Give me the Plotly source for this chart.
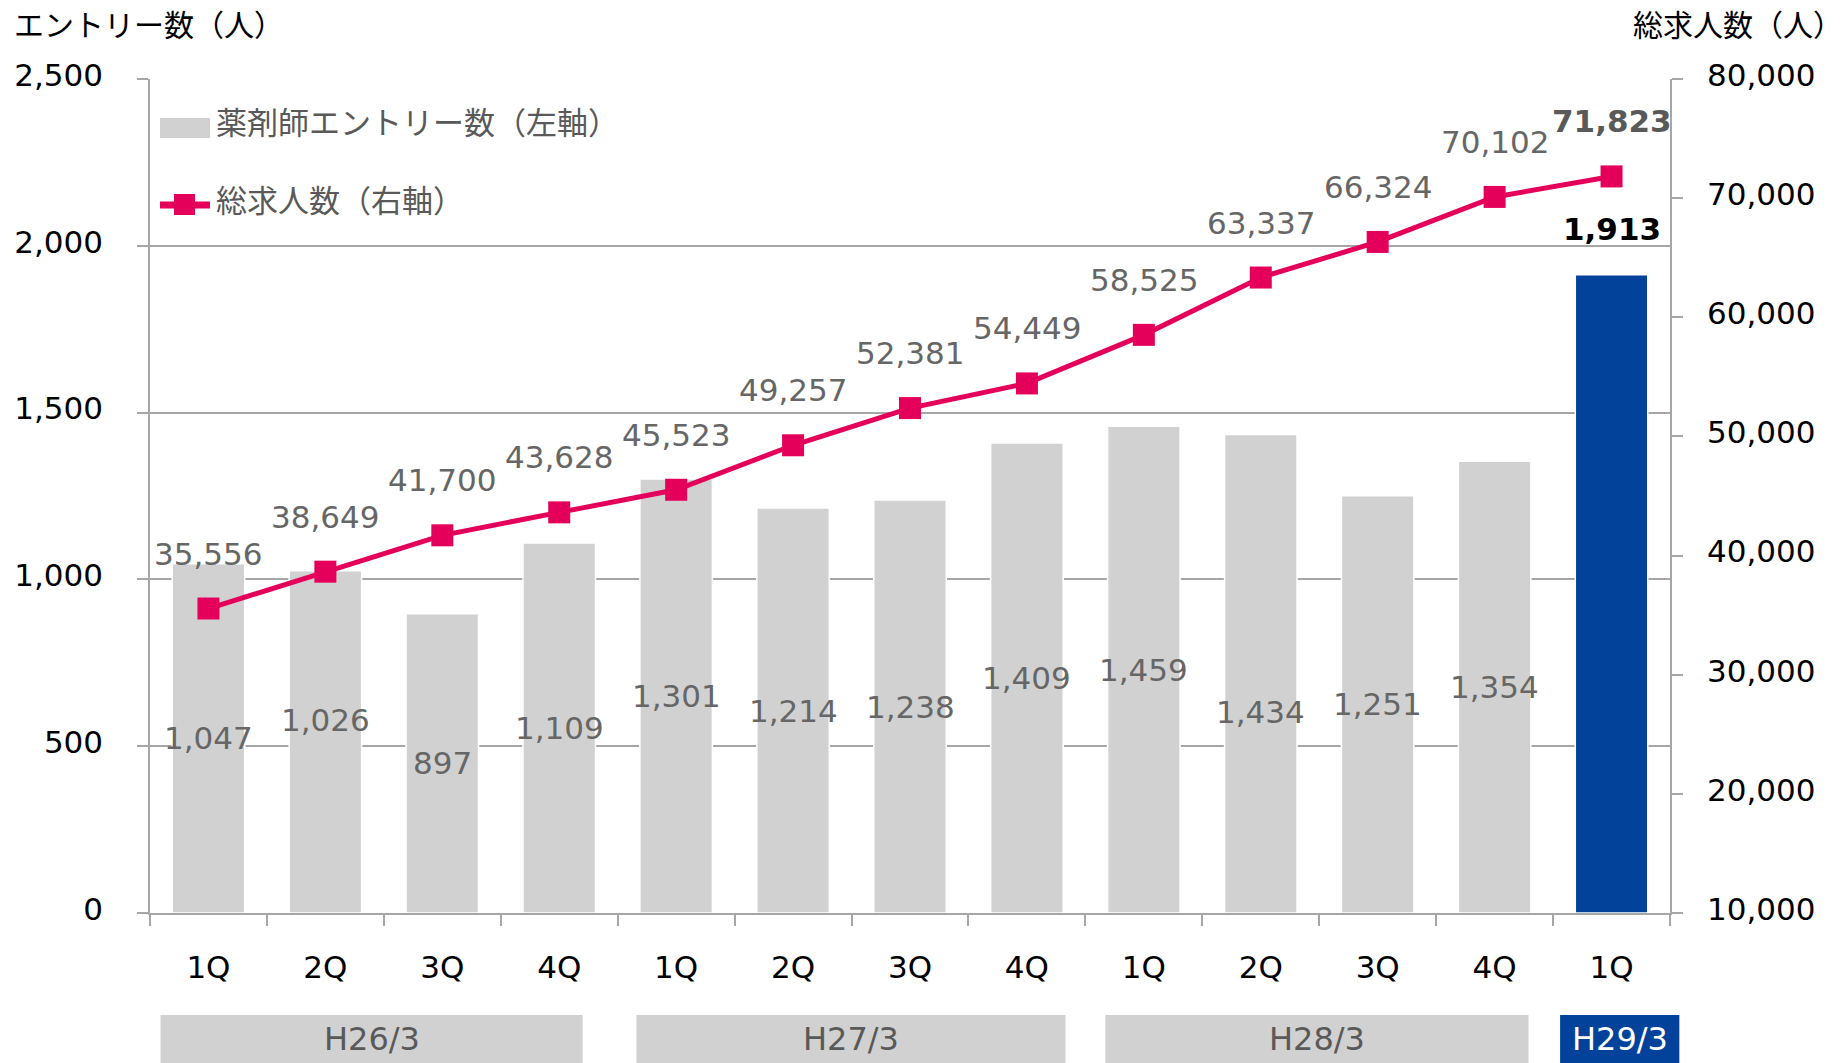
import plotly.graph_objects as go

# ---------------- data ----------------
fiscal_years = ["H26/3", "H26/3", "H26/3", "H26/3",
                "H27/3", "H27/3", "H27/3", "H27/3",
                "H28/3", "H28/3", "H28/3", "H28/3",
                "H29/3"]
quarters = ["1Q", "2Q", "3Q", "4Q", "1Q", "2Q", "3Q", "4Q",
            "1Q", "2Q", "3Q", "4Q", "1Q"]
entries = [1047, 1026, 897, 1109, 1301, 1214, 1238, 1409,
           1459, 1434, 1251, 1354, 1913]
job_offers = [35556, 38649, 41700, 43628, 45523, 49257, 52381,
              54449, 58525, 63337, 66324, 70102, 71823]
group_names = ["H26/3", "H27/3", "H28/3", "H29/3"]
group_first = [0, 4, 8, 12]
group_last = [3, 7, 11, 12]
bar_name = "薬剤師エントリー数（左軸）"
line_name = "総求人数（右軸）"
left_title = "エントリー数（人）"
right_title = "総求人数（人）"

# ---------------- style ----------------
W, H = 1847, 1063
PL, PR, PT, PB = 150, 1670, 79, 913          # plot area in px
FONT = "DejaVu Sans, Noto Sans CJK JP, sans-serif"
GRAY_BAR = "#d1d1d1"
BLUE = "#03429b"
PINK = "#e4005a"
GRID = "#a6a6a6"
TXT_GRAY = "#666666"
FS = 31

def px_x(p):
    return (p - PL) / (PR - PL)

def px_y(p):
    return (PB - p) / (PB - PT)

x_keys = [f"{f} {q}" for f, q in zip(fiscal_years, quarters)]
n = len(x_keys)
bar_colors = [GRAY_BAR] * (n - 1) + [BLUE]
bar_label_shift = [0, 22, 0, 0, 0, 0, 0, 0, 0, -38, 0, 0, 0]

fig = go.Figure()
fig.add_trace(go.Bar(
    x=x_keys, y=entries, name=bar_name,
    marker=dict(color=bar_colors, line=dict(color="white", width=1.5)),
    width=0.62, yaxis="y", showlegend=False,
))
fig.add_trace(go.Scatter(
    x=x_keys, y=job_offers, name=line_name, yaxis="y2",
    mode="lines+markers",
    line=dict(color=PINK, width=5),
    marker=dict(symbol="square", size=22, color=PINK),
    showlegend=False,
))

annotations = []
# bar value labels
for i, (k, v) in enumerate(zip(x_keys, entries)):
    if i == n - 1:
        annotations.append(dict(x=k, y=v, xref="x", yref="y", text=f"<b>{v:,}</b>",
                                showarrow=False, yanchor="middle", yshift=46,
                                font=dict(family=FONT, size=FS, color="#000000")))
    else:
        annotations.append(dict(x=k, y=v / 2, xref="x", yref="y", text=f"{v:,}",
                                showarrow=False, yanchor="middle",
                                yshift=bar_label_shift[i],
                                font=dict(family=FONT, size=FS, color=TXT_GRAY)))
# line value labels
for i, (k, v) in enumerate(zip(x_keys, job_offers)):
    txt = f"<b>{v:,}</b>" if i == n - 1 else f"{v:,}"
    annotations.append(dict(x=k, y=v, xref="x", yref="y2", text=txt,
                            showarrow=False, yanchor="middle", yshift=55,
                            font=dict(family=FONT, size=FS,
                                      color="#595959" if i == n - 1 else TXT_GRAY)))

# axis titles
annotations.append(dict(x=px_x(12), y=px_y(26), xref="paper", yref="paper",
                        text=left_title, showarrow=False, xanchor="left", yanchor="middle",
                        font=dict(family=FONT, size=30, color="#000000")))
annotations.append(dict(x=px_x(1845), y=px_y(26), xref="paper", yref="paper",
                        text=right_title, showarrow=False, xanchor="right", yanchor="middle",
                        font=dict(family=FONT, size=30, color="#000000")))

shapes = []
# legend (drawn manually)
shapes.append(dict(type="rect", xref="paper", yref="paper",
                   x0=px_x(160), x1=px_x(210), y0=px_y(138), y1=px_y(118),
                   fillcolor=GRAY_BAR, line=dict(width=0)))
shapes.append(dict(type="line", xref="paper", yref="paper",
                   x0=px_x(160), x1=px_x(210), y0=px_y(205), y1=px_y(205),
                   line=dict(color=PINK, width=7)))
shapes.append(dict(type="rect", xref="paper", yref="paper",
                   x0=px_x(174), x1=px_x(195), y0=px_y(215), y1=px_y(194),
                   fillcolor=PINK, line=dict(width=0)))
annotations.append(dict(x=px_x(214), y=px_y(123), xref="paper", yref="paper",
                        text=bar_name, showarrow=False, xanchor="left", yanchor="middle",
                        font=dict(family=FONT, size=31, color="#595959")))
annotations.append(dict(x=px_x(214), y=px_y(201), xref="paper", yref="paper",
                        text=line_name, showarrow=False, xanchor="left", yanchor="middle",
                        font=dict(family=FONT, size=31, color="#595959")))

# fiscal-year boxes under the axis (paper coordinates so they are not clipped)
pad_left = [0.09, 0.16, 0.17, 0.06]
pad_right = [0.30, 0.17, 0.21, -0.08]
box_y0, box_y1 = px_y(1070), px_y(1015)
for gi, name in enumerate(group_names):
    x0 = (group_first[gi] + pad_left[gi]) / n
    x1 = (group_last[gi] + 1 - pad_right[gi]) / n
    is_last = gi == len(group_names) - 1
    shapes.append(dict(type="rect", xref="paper", yref="paper", x0=x0, x1=x1,
                       y0=box_y0, y1=box_y1, layer="above",
                       fillcolor=BLUE if is_last else GRAY_BAR, line=dict(width=0)))
    annotations.append(dict(x=(x0 + x1) / 2, y=px_y(1039), xref="paper", yref="paper",
                            text=name, showarrow=False, xanchor="center", yanchor="middle",
                            font=dict(family=FONT, size=32,
                                      color="#ffffff" if is_last else "#595959")))

fig.update_layout(
    width=W, height=H,
    margin=dict(l=PL, r=W - PR, t=PT, b=H - PB, pad=0),
    paper_bgcolor="white", plot_bgcolor="white",
    font=dict(family=FONT, size=FS, color="#000000"),
    xaxis=dict(type="category", range=[-0.5, n - 0.5],
               tickmode="array", tickvals=x_keys, ticktext=quarters,
               tickson="boundaries", ticks="outside", ticklen=11, tickwidth=1.5,
               tickcolor=GRID, showline=True, linecolor=GRID, linewidth=1.5,
               showgrid=False, ticklabelstandoff=26,
               tickfont=dict(family=FONT, size=FS, color="#000000")),
    yaxis=dict(range=[0, 2500], dtick=500, tickformat=",d",
               showgrid=True, gridcolor=GRID, gridwidth=1.5,
               ticks="outside", ticklen=11, tickwidth=1.5, tickcolor=GRID,
               showline=True, linecolor=GRID, linewidth=1.5,
               zeroline=False, ticklabelstandoff=28, ticklabelshift=-4,
               tickfont=dict(family=FONT, size=FS, color="#000000")),
    yaxis2=dict(range=[10000, 80000], dtick=10000, tickformat=",d",
                overlaying="y", side="right", showgrid=False,
                ticks="outside", ticklen=11, tickwidth=1.5, tickcolor=GRID,
                showline=True, linecolor=GRID, linewidth=1.5,
                zeroline=False, ticklabelstandoff=18, ticklabelshift=-4,
                tickfont=dict(family=FONT, size=FS, color="#000000")),
    annotations=annotations,
    shapes=shapes,
)

fig.write_html("out.html", config={"displayModeBar": False},
               post_script="document.body.style.margin='0';")
